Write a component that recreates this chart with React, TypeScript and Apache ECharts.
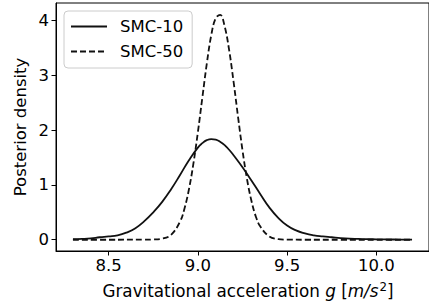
import React, { useEffect, useRef } from "react";
import * as echarts from "echarts";

const seriesNames = ["SMC-10", "SMC-50"];

const xSmc10 = [8.3, 8.35, 8.4, 8.45, 8.5, 8.55, 8.6, 8.65, 8.7, 8.75, 8.8, 8.85, 8.9, 8.95, 9.0, 9.025, 9.05, 9.075, 9.1, 9.125, 9.15, 9.175, 9.2, 9.25, 9.3, 9.35, 9.4, 9.45, 9.5, 9.55, 9.6, 9.65, 9.7, 9.75, 9.8, 9.85, 9.9, 9.95, 10.0, 10.05, 10.1, 10.15, 10.2];
const ySmc10 = [0.01, 0.015, 0.025, 0.045, 0.06, 0.08, 0.13, 0.21, 0.34, 0.5, 0.69, 0.92, 1.18, 1.45, 1.68, 1.76, 1.815, 1.835, 1.825, 1.785, 1.725, 1.64, 1.54, 1.32, 1.08, 0.83, 0.59, 0.4, 0.26, 0.17, 0.115, 0.08, 0.06, 0.045, 0.03, 0.02, 0.015, 0.01, 0.008, 0.005, 0.004, 0.003, 0.002];

const xSmc50 = [8.3, 8.5, 8.7, 8.75, 8.8, 8.85, 8.9, 8.925, 8.95, 8.975, 9.0, 9.025, 9.05, 9.075, 9.1, 9.125, 9.15, 9.175, 9.2, 9.225, 9.25, 9.275, 9.3, 9.325, 9.35, 9.4, 9.45, 9.5, 9.6, 9.8, 10.0, 10.2];
const ySmc50 = [0, 0, 0.001, 0.004, 0.019, 0.09, 0.33, 0.57, 0.92, 1.39, 1.96, 2.59, 3.21, 3.73, 4.04, 4.1, 3.89, 3.46, 2.88, 2.24, 1.63, 1.11, 0.71, 0.42, 0.24, 0.06, 0.01, 0.002, 0, 0, 0, 0];

const xTicks = [8.5, 9.0, 9.5, 10.0];
const yTicks = [0, 1, 2, 3, 4];

const FONT = "DejaVu Sans";
const FS = 16.5;

export default function App() {
  const ref = useRef<HTMLDivElement>(null);
  useEffect(() => {
    const chart = echarts.init(ref.current!, null, { renderer: "svg" });
    const axisLine = { show: true, onZero: false, lineStyle: { color: "#000", width: 1 } };
    chart.setOption({
      animation: false,
      backgroundColor: "#fff",
      grid: {
        left: 56,
        top: 3,
        width: 383,
        height: 248,
        show: true,
        borderColor: "#000",
        borderWidth: 1,
        backgroundColor: "transparent",
      },
      xAxis: {
        type: "value",
        min: 8.205,
        max: 10.295,
        axisLine,
        splitLine: { show: false },
        axisTick: {
          show: true,
          inside: false,
          customValues: xTicks,
          length: 4.5,
          lineStyle: { color: "#000", width: 1 },
        },
        axisLabel: {
          customValues: xTicks,
          formatter: (v: number) => v.toFixed(1),
          fontFamily: FONT,
          fontSize: FS,
          color: "#000",
          margin: 6,
        },
      },
      yAxis: {
        type: "value",
        min: -0.2055,
        max: 4.3155,
        axisLine,
        splitLine: { show: false },
        axisTick: {
          show: true,
          inside: false,
          customValues: yTicks,
          length: 4.5,
          lineStyle: { color: "#000", width: 1 },
        },
        axisLabel: {
          customValues: yTicks,
          formatter: (v: number) => String(v),
          fontFamily: FONT,
          fontSize: FS,
          color: "#000",
          margin: 7,
        },
      },
      legend: {
        orient: "vertical",
        left: 64,
        top: 11,
        data: seriesNames,
        backgroundColor: "rgba(255,255,255,0.8)",
        borderColor: "#ccc",
        borderWidth: 1,
        borderRadius: 4,
        padding: [7, 9, 8, 6],
        itemWidth: 36,
        itemHeight: 14,
        itemGap: 8,
        itemStyle: { opacity: 0 },
        textStyle: {
          fontFamily: FONT,
          fontSize: FS,
          color: "#000",
          padding: [0, 0, 0, 8],
        },
      },
      graphic: [
        {
          type: "text",
          x: 248,
          y: 291,
          style: {
            text: "Gravitational acceleration {it|g} [{it|m/s}{sup|2}]",
            fontFamily: FONT,
            fontSize: 16.8,
            fill: "#000",
            align: "center",
            verticalAlign: "middle",
            rich: {
              it: { fontFamily: FONT, fontSize: 16.8, fontStyle: "italic", fill: "#000" },
              sup: { fontFamily: FONT, fontSize: 11.8, fill: "#000", padding: [0, 0, 9, 1] },
            },
          },
        },
        {
          type: "text",
          x: 20,
          y: 127,
          rotation: Math.PI / 2,
          style: {
            text: "Posterior density",
            fontFamily: FONT,
            fontSize: FS,
            fill: "#000",
            align: "center",
            verticalAlign: "middle",
          },
        },
      ],
      series: [
        {
          name: seriesNames[0],
          type: "line",
          smooth: 0.5,
          showSymbol: false,
          symbol: "none",
          data: xSmc10.map((x, i) => [x, ySmc10[i]]),
          lineStyle: { color: "#111", width: 1.8, type: "solid" },
          itemStyle: { color: "#111" },
        },
        {
          name: seriesNames[1],
          type: "line",
          smooth: 0.4,
          showSymbol: false,
          symbol: "none",
          data: xSmc50.map((x, i) => [x, ySmc50[i]]),
          lineStyle: { color: "#111", width: 1.8, type: [6, 3] },
          itemStyle: { color: "#111" },
        },
      ],
    });
    return () => chart.dispose();
  }, []);
  return (
    <div
      ref={ref}
      style={{ position: "fixed", left: 0, top: 0, width: 429, height: 305, background: "#fff" }}
    />
  );
}
